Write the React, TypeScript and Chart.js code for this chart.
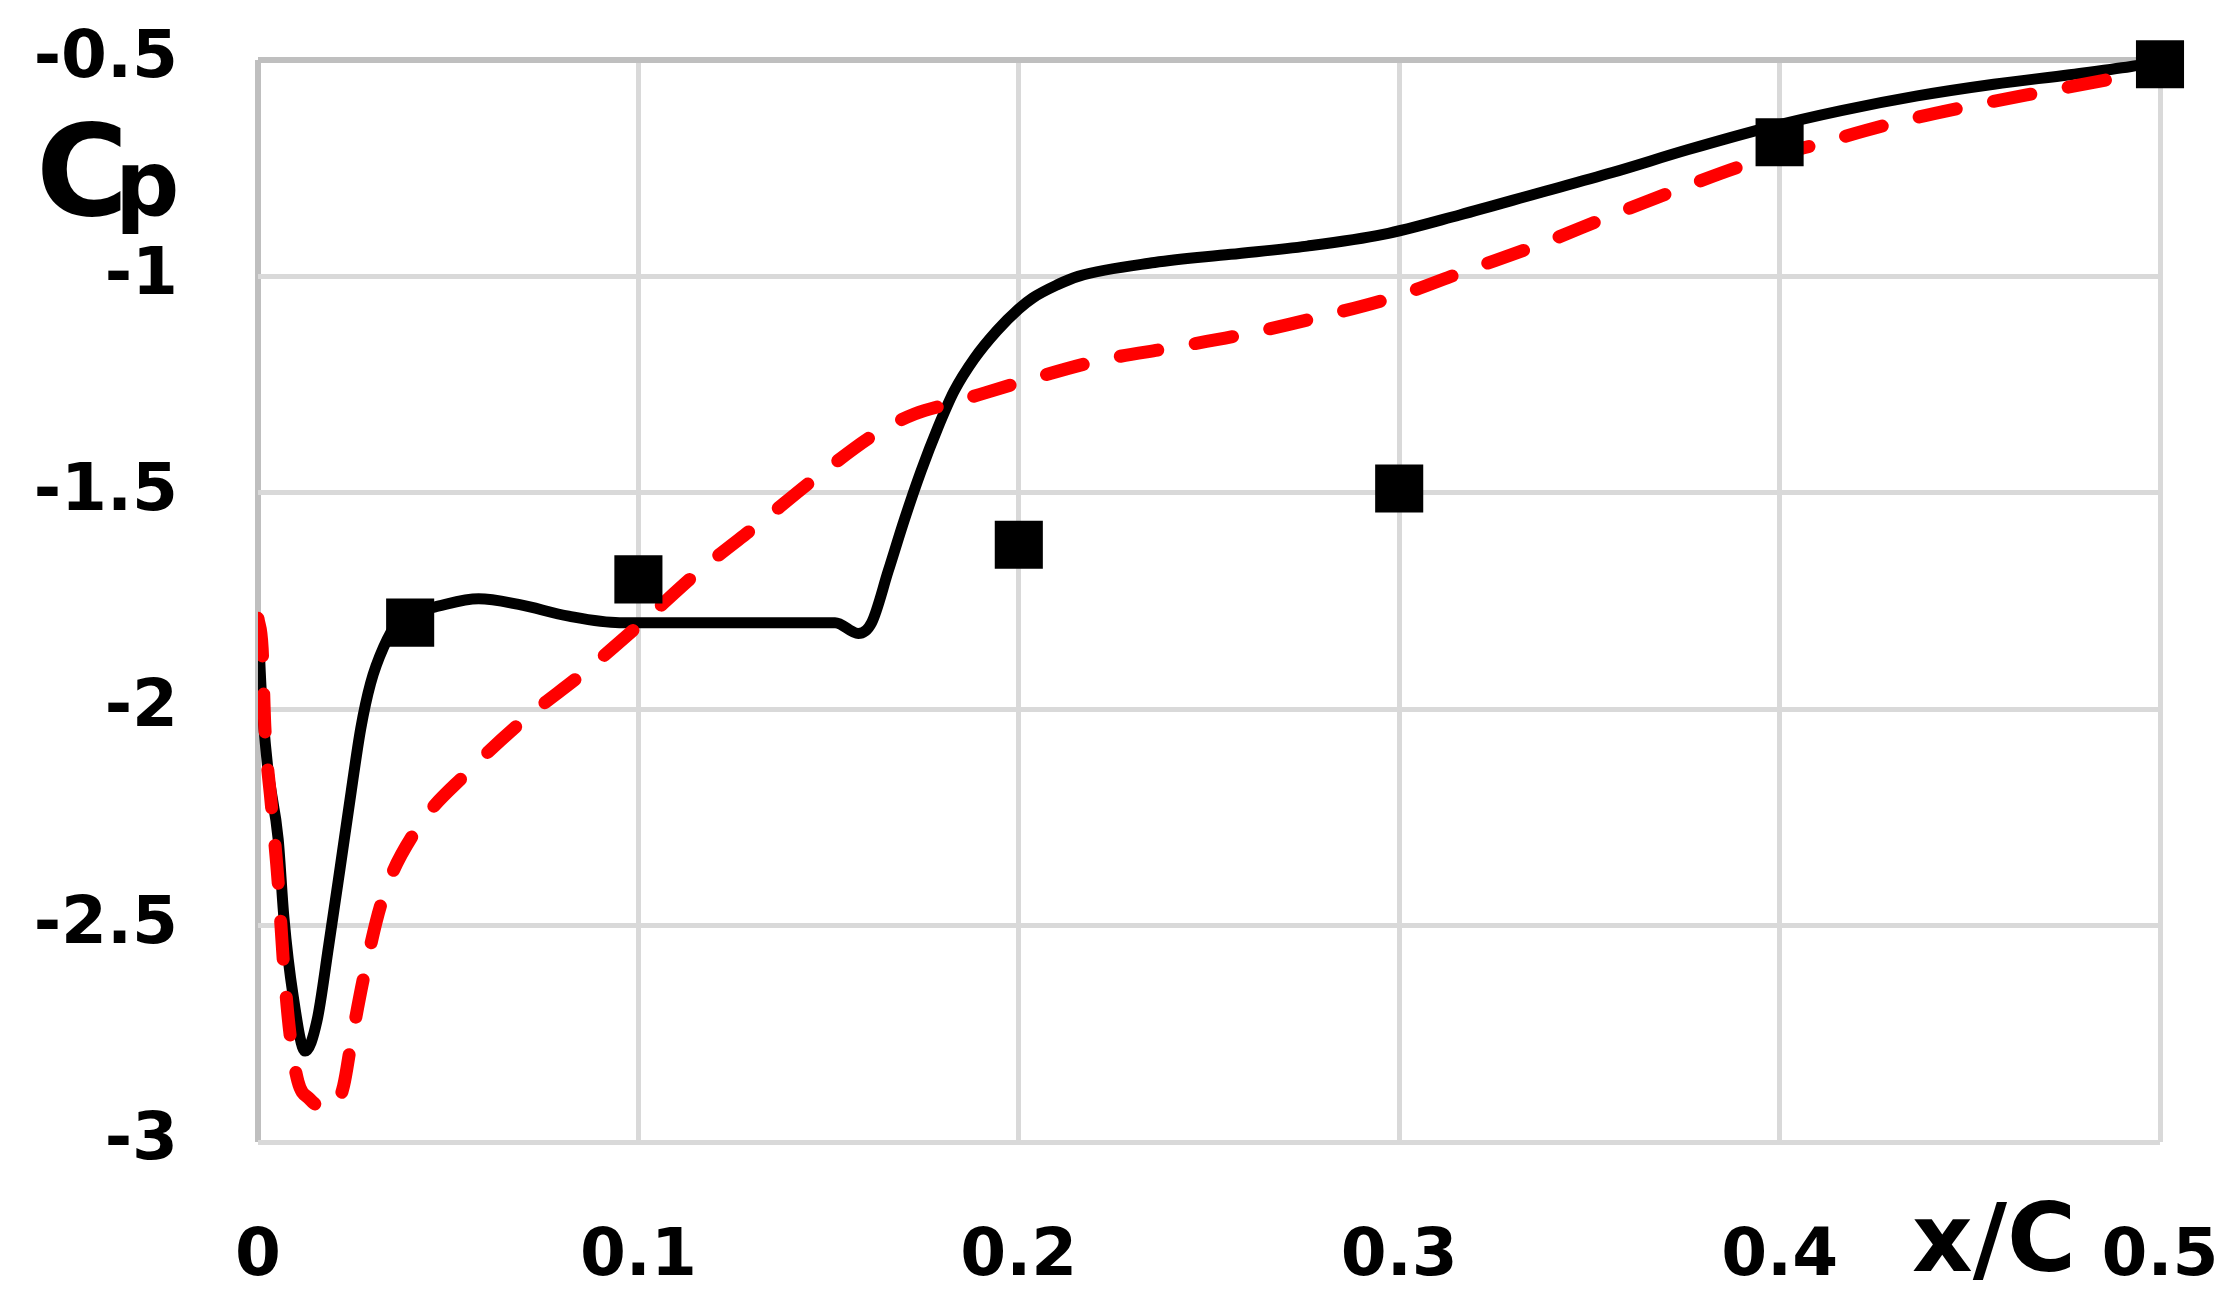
import React, { useEffect, useRef } from "react";
import { Chart, registerables } from "chart.js";

Chart.register(...registerables);

// Axis ticks
const xTicks = [0, 0.1, 0.2, 0.3, 0.4, 0.5];
const yTicks = [-3, -2.5, -2, -1.5, -1, -0.5];

// Experimental data (black squares)
const expX = [0.04, 0.1, 0.2, 0.3, 0.4, 0.5];
const expCp = [-1.8, -1.7, -1.62, -1.49, -0.69, -0.51];

// Solid black curve
const solidX = [
  0, 0.0008, 0.0025, 0.0053, 0.0068, 0.0092, 0.0124, 0.0155, 0.0186, 0.0216,
  0.0245, 0.027, 0.0296, 0.033, 0.0367, 0.042, 0.0473, 0.058, 0.0685, 0.0817,
  0.095, 0.11, 0.13, 0.1517, 0.1578, 0.1613, 0.1657, 0.17, 0.1743, 0.1787,
  0.183, 0.1883, 0.1943, 0.2, 0.2036, 0.21, 0.2156, 0.2357, 0.2557, 0.2758, 0.2958,
  0.3159, 0.336, 0.356, 0.376, 0.3961, 0.4162, 0.4362, 0.4563, 0.4763, 0.4924,
  0.5,
];
const solidCp = [
  -1.79, -1.95, -2.13, -2.3, -2.48, -2.66, -2.79, -2.72, -2.545, -2.366,
  -2.19, -2.045, -1.94, -1.857, -1.8, -1.775, -1.762, -1.745, -1.758, -1.785,
  -1.8, -1.8, -1.8, -1.8, -1.825, -1.8, -1.68, -1.56, -1.45, -1.35,
  -1.265, -1.19, -1.125, -1.075, -1.05, -1.02, -1.0, -0.968, -0.949, -0.93, -0.903,
  -0.858, -0.809, -0.76, -0.707, -0.658, -0.617, -0.583, -0.556, -0.534, -0.515,
  -0.504,
];

// Dashed red curve
const dashX = [
  0, 0.0011, 0.0018, 0.0035, 0.0053, 0.0066, 0.0084, 0.0105, 0.0135, 0.017,
  0.02, 0.0225, 0.0245, 0.028, 0.0327, 0.0415, 0.0552, 0.0698, 0.0857, 0.1009,
  0.1165, 0.1322, 0.1474, 0.163, 0.1726, 0.1822, 0.2013, 0.2213, 0.2407, 0.2598, 0.2798,
  0.2989, 0.3179, 0.337, 0.355, 0.3736, 0.39, 0.4121, 0.4312, 0.4502, 0.4703,
  0.4884, 0.5,
];
const dashCp = [
  -1.79, -1.86, -2.04, -2.22, -2.4, -2.575, -2.75, -2.86, -2.9, -2.92,
  -2.92, -2.87, -2.77, -2.61, -2.44, -2.28, -2.145, -2.025, -1.915, -1.8,
  -1.677, -1.568, -1.46, -1.36, -1.318, -1.293, -1.242, -1.194, -1.164, -1.133, -1.092,
  -1.047, -0.986, -0.926, -0.862, -0.798, -0.745, -0.689, -0.643, -0.606, -0.572,
  -0.542, -0.523,
];

const FONT = "DejaVu Sans";

const axisTitles = {
  id: "axisTitles",
  afterDraw(chart: any) {
    const ctx = chart.ctx as CanvasRenderingContext2D;
    ctx.save();
    ctx.fillStyle = "#000";
    ctx.textAlign = "left";
    ctx.textBaseline = "alphabetic";
    ctx.font = `bold 126px "${FONT}"`;
    ctx.fillText("C", 36, 215);
    ctx.font = `bold 90px "${FONT}"`;
    ctx.fillText("p", 115, 215);
    ctx.font = `bold 94px "${FONT}"`;
    ctx.fillText("x/C", 1912, 1271);
    ctx.restore();
  },
};

export default function App() {
  const ref = useRef<HTMLCanvasElement | null>(null);

  useEffect(() => {
    document.body.style.overflow = "hidden";
    const canvas = ref.current;
    if (!canvas) return;
    const chart = new Chart(canvas, {
      type: "scatter",
      data: {
        datasets: [
          {
            label: "Experiment",
            data: expX.map((x, i) => ({ x, y: expCp[i] })),
            showLine: false,
            pointStyle: "rect",
            pointRadius: 34,
            pointHoverRadius: 34,
            backgroundColor: "#000",
            borderColor: "#000",
            borderWidth: 0,
            clip: false,
          } as any,
          {
            label: "CFD dashed",
            data: dashX.map((x, i) => ({ x, y: dashCp[i] })),
            showLine: true,
            pointRadius: 0,
            borderColor: "#ff0000",
            borderWidth: 13,
            borderDash: [38, 38],
            borderCapStyle: "round",
            borderJoinStyle: "round",
            cubicInterpolationMode: "monotone",
            fill: false,
          } as any,
          {
            label: "CFD solid",
            data: solidX.map((x, i) => ({ x, y: solidCp[i] })),
            showLine: true,
            pointRadius: 0,
            borderColor: "#000000",
            borderWidth: 11,
            borderCapStyle: "butt",
            borderJoinStyle: "round",
            cubicInterpolationMode: "monotone",
            fill: false,
          } as any,
        ],
      },
      options: {
        responsive: false,
        animation: false,
        devicePixelRatio: 1,
        events: [],
        layout: { padding: { left: 0, top: 60, right: 79, bottom: 0 } },
        plugins: {
          legend: { display: false },
          tooltip: { enabled: false },
          title: { display: false },
        },
        scales: {
          x: {
            type: "linear",
            min: xTicks[0],
            max: xTicks[xTicks.length - 1],
            afterBuildTicks: (s: any) => {
              s.ticks = xTicks.map((v) => ({ value: v }));
            },
            afterFit: (s: any) => {
              s.height = 172;
            },
            ticks: {
              callback: (v: any) => String(Math.round(Number(v) * 10) / 10),
              font: { family: FONT, size: 66, weight: "bold" },
              color: "#000",
              padding: 0,
              maxRotation: 0,
              autoSkip: false,
            },
            grid: {
              drawTicks: true,
              tickLength: 76,
              tickColor: "rgba(0,0,0,0)",
              color: (c: any) => (c.tick && c.tick.value === 0 ? "#bfbfbf" : "#d9d9d9"),
              lineWidth: (c: any) => (c.tick && c.tick.value === 0 ? 6 : 5),
            },
            border: { display: false },
          },
          y: {
            type: "linear",
            min: yTicks[0],
            max: yTicks[yTicks.length - 1],
            afterBuildTicks: (s: any) => {
              s.ticks = yTicks.map((v) => ({ value: v }));
            },
            afterFit: (s: any) => {
              s.width = 258;
            },
            ticks: {
              callback: (v: any) => String(Math.round(Number(v) * 10) / 10),
              font: { family: FONT, size: 66, weight: "bold" },
              color: "#000",
              padding: 0,
              autoSkip: false,
            },
            grid: {
              drawTicks: true,
              tickLength: 80,
              tickColor: "rgba(0,0,0,0)",
              color: (c: any) => (c.tick && c.tick.value === -0.5 ? "#bfbfbf" : "#d9d9d9"),
              lineWidth: (c: any) => (c.tick && c.tick.value === -0.5 ? 6 : 5),
            },
            border: { display: false },
          },
        },
      } as any,
      plugins: [axisTitles],
    });
    return () => chart.destroy();
  }, []);

  return (
    <div style={{ position: "absolute", left: 0, top: 0, width: 2239, height: 1314, background: "#fff" }}>
      <canvas ref={ref} width={2239} height={1314} style={{ display: "block", width: 2239, height: 1314 }} />
    </div>
  );
}
